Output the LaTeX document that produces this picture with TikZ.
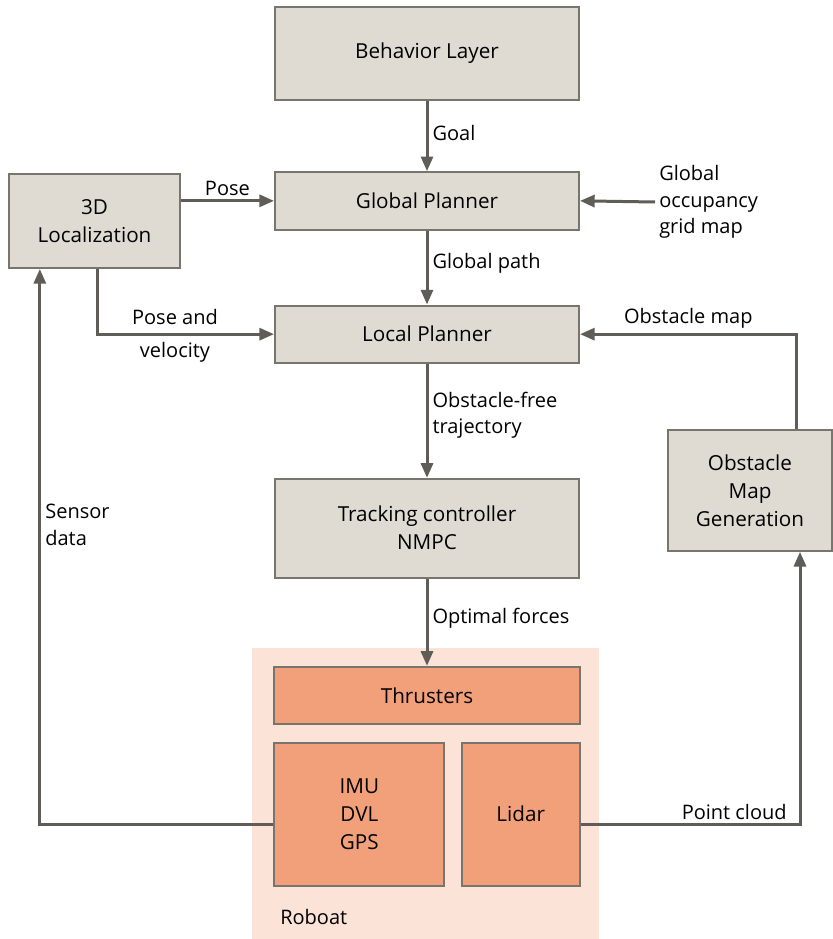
\documentclass[tikz,border=0pt]{standalone}
\usepackage{fontspec}
\setmainfont{Open Sans}
\usepackage{xcolor}
\usepackage{tikz}
\usetikzlibrary{arrows.meta, positioning, backgrounds, calc}

\definecolor{boxgray}{RGB}{224,219,210}
\definecolor{edgegray}{RGB}{120,116,110}
\definecolor{arrgray}{RGB}{96,92,87}
\definecolor{hwfill}{RGB}{242,160,122}
\definecolor{boatbg}{RGB}{251,227,216}

\begin{document}
\begin{tikzpicture}[
    x=0.75pt, y=-0.75pt,
    font=\fontsize{15.5}{21}\selectfont,
    block/.style={rectangle, draw=edgegray, line width=1.5pt,
                  fill=#1, minimum width=228pt, minimum height=43pt,
                  align=center, inner sep=2pt},
    lbl/.style={text=black, font=\fontsize{15}{20}\selectfont, inner sep=3pt},
    arr/.style={-{Triangle[length=11pt, width=9pt]}, line width=2.25pt,
                arrgray},
    node distance=55pt
  ]

  \useasboundingbox (0,0) rectangle (832,939);

  \node[block=boxgray, minimum height=70pt] at (427,53.5) (beh) {Behavior Layer};
  \node[block=boxgray, below=52.5pt of beh]        (glob) {Global Planner};
  \node[block=boxgray, below=55.5pt of glob]       (lp)   {Local Planner};
  \node[block=boxgray, minimum height=74pt, below=85.5pt of lp]
                                                   (trk)  {Tracking controller\\NMPC};
  \node[block=hwfill, minimum width=229pt, below=65.5pt of trk]
                                                   (thr)  {Thrusters};
  \node[block=hwfill, minimum width=127.5pt, minimum height=107pt,
        below=12.5pt of thr.south west, anchor=north west] (imu) {IMU\\DVL\\GPS};
  \node[block=hwfill, minimum width=88.5pt, minimum height=107pt,
        below=12.5pt of thr.south east, anchor=north east] (lidar) {Lidar};

  \node[block=boxgray, minimum width=128pt, minimum height=70.5pt]
        at (94.5,221) (loc) {3D\\Localization};
  \node[block=boxgray, minimum width=123pt, minimum height=90.5pt]
        at (750,490.5) (obs) {Obstacle\\Map\\Generation};

  \node[lbl, align=left, anchor=west] at (655,202) (gmap)
        {Global\\occupancy\\grid map};

  \begin{scope}[on background layer]
    \fill[boatbg] ($(thr.north west)+(-21,-18)$) rectangle ($(lidar.south east)+(18,53)$);
  \end{scope}
  \node[lbl, anchor=west] at (276,917) (rob) {Roboat};

  \foreach \a/\b/\t in {beh/glob/Goal, glob/lp/Global path,
                        lp/trk/{Obstacle-free\\trajectory}, trk/thr/Optimal forces}
    \draw[arr] (\a) -- node[lbl, right, align=left, pos=0.45]{\t} (\b);

  \draw[arr] (gmap.west) -- (glob.east);
  \draw[arr] (loc.east |- glob.west) -- node[lbl, above]{Pose} (glob.west);
  \draw[arr] ([xshift=2pt]loc.south) |- (lp.west)
        node[lbl, pos=0.72, above=3pt]{Pose and}
        node[lbl, pos=0.72, below=2pt]{velocity};
  \draw[arr] ([xshift=35pt]obs.north) |- (lp.east)
        node[lbl, pos=0.75, above]{Obstacle map};

  \draw[arr] ([yshift=-8pt]imu.west) -| ([xshift=-41pt]loc.south)
        node[lbl, pos=0.77, right, align=left]{Sensor\\data};
  \draw[arr] ([yshift=-8pt]lidar.east) -| ([xshift=37.5pt]obs.south)
        node[lbl, pos=0.35, above]{Point cloud};

\end{tikzpicture}
\end{document}
